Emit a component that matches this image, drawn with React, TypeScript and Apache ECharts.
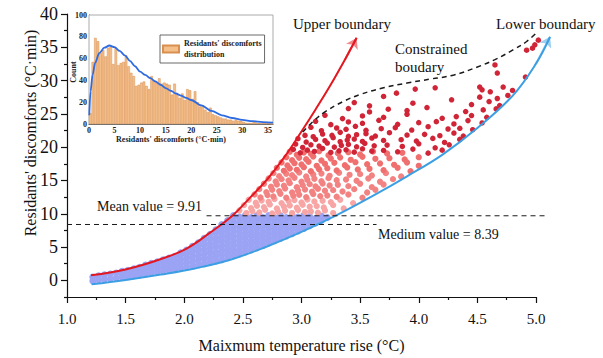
import React, { useEffect, useRef } from 'react';
import * as echarts from 'echarts';

const FONT = 'Liberation Serif';

// ---------- main chart data ----------
const xTickStep = 0.5;
const yMajorTicks = [0, 5, 10, 15, 20, 25, 30, 35, 40];
const yMinorTicks = [-2.5, 2.5, 7.5, 12.5, 17.5, 22.5, 27.5, 32.5, 37.5];

const upperBoundary: number[][] = [
  [1.205, 0.75], [1.5, 1.64], [1.79, 3.13], [2.02, 4.78], [2.22, 7.16], [2.41, 9.7],
  [2.56, 12.39], [2.71, 15.22], [2.86, 18.66], [2.99, 22.09], [3.12, 25.67],
  [3.24, 29.1], [3.37, 33.13], [3.47, 36.42],
];
const lowerBoundary: number[][] = [
  [1.21, -0.3], [1.5, 0.35], [1.8, 1.15], [2.1, 2.1], [2.4, 3.4], [2.7, 5.3], [3.0, 7.5],
  [3.3, 10.0], [3.6, 12.8], [3.9, 15.8], [4.2, 19.0], [4.5, 23.0], [4.8, 27.8],
  [5.0, 32.6], [5.12, 36.6],
];
const constrainedBoundary: number[][] = [
  [3.01, 22.4], [3.1, 24.0], [3.2, 25.4], [3.35, 26.9], [3.5, 28.0], [3.7, 29.0],
  [3.9, 29.7], [4.1, 30.3], [4.3, 30.9], [4.5, 32.1], [4.65, 33.2], [4.8, 34.6],
  [4.92, 35.9], [5.01, 37.3],
];
const meanValue = 9.91;
const medianValue = 8.39;
const meanSpan = [2.19, 5.1];
const medianSpan = [1.0, 3.64];

// blue points (below the mean) as columns: [x, ys]
const blueCols: [number, number[]][] = [
  [1.22, [-0.1, 0.5]],
  [1.27, [0.05, 0.7]],
  [1.32, [0.15, 0.85]],
  [1.37, [0.25, 0.95]],
  [1.42, [0.35, 1.1]],
  [1.47, [0.45, 1.0, 1.35]],
  [1.52, [0.55, 1.1, 1.5]],
  [1.57, [0.7, 1.25, 1.75]],
  [1.62, [0.8, 1.35, 1.95]],
  [1.67, [0.95, 1.5, 2.05, 2.3]],
  [1.72, [1.1, 1.7, 2.3, 2.55]],
  [1.77, [1.25, 1.85, 2.45, 2.8]],
  [1.82, [1.35, 1.95, 2.6, 3.1]],
  [1.87, [1.5, 2.1, 2.75, 3.35]],
  [1.92, [1.65, 2.3, 2.95, 3.6]],
  [1.97, [1.85, 2.5, 3.15, 3.8, 4.15]],
  [2.02, [2.0, 2.65, 3.3, 3.95, 4.55]],
  [2.07, [2.15, 2.8, 3.5, 4.2, 4.85, 5.1]],
  [2.12, [2.3, 3.0, 3.7, 4.4, 5.05, 5.65]],
  [2.17, [2.5, 3.2, 3.9, 4.6, 5.3, 6.0, 6.3]],
  [2.22, [2.7, 3.4, 4.1, 4.8, 5.5, 6.2, 6.9]],
  [2.27, [2.9, 3.6, 4.3, 5.0, 5.7, 6.4, 7.1, 7.6]],
  [2.32, [3.1, 3.8, 4.5, 5.2, 5.9, 6.6, 7.3, 8.0, 8.4]],
  [2.37, [3.4, 4.1, 4.8, 5.5, 6.2, 6.9, 7.6, 8.3, 9.0]],
  [2.42, [3.7, 4.4, 5.1, 5.8, 6.5, 7.2, 7.9, 8.6, 9.3, 9.75]],
  [2.47, [3.95, 4.6, 5.3, 6.0, 6.7, 7.4, 8.1, 8.8, 9.5]],
  [2.52, [4.25, 4.95, 5.65, 6.35, 7.05, 7.75, 8.45, 9.15, 9.75]],
  [2.57, [4.55, 5.25, 5.95, 6.65, 7.35, 8.05, 8.75, 9.45]],
  [2.62, [4.9, 5.6, 6.3, 7.0, 7.7, 8.4, 9.1, 9.75]],
  [2.67, [5.25, 5.95, 6.65, 7.35, 8.05, 8.75, 9.45]],
  [2.72, [5.6, 6.3, 7.0, 7.7, 8.4, 9.1, 9.75]],
  [2.77, [5.95, 6.65, 7.35, 8.05, 8.75, 9.45]],
  [2.82, [6.3, 7.0, 7.7, 8.4, 9.1, 9.75]],
  [2.87, [6.65, 7.35, 8.05, 8.75, 9.45]],
  [2.92, [7.0, 7.7, 8.4, 9.1, 9.75]],
  [2.97, [7.4, 8.1, 8.8, 9.5]],
  [3.02, [7.8, 8.5, 9.2, 9.8]],
  [3.07, [8.2, 8.9, 9.6]],
  [3.12, [8.6, 9.3]],
  [3.17, [9.0, 9.65]],
  [3.22, [9.45]],
];

// pink points (between mean and ~19.5) as rows: [xs, ys]
const pinkRows: [number[], number[]][] = [
  [[2.47, 2.53, 2.58, 2.64, 2.69, 2.75, 2.8, 2.86, 2.92, 2.97, 3.03, 3.08, 3.14, 3.2, 3.27],
   [10.5, 10.1, 10.4, 10.2, 10.6, 10.05, 10.3, 10.45, 10.1, 10.55, 10.25, 10.35, 10.15, 10.5, 10.1]],
  [[2.51, 2.57, 2.62, 2.68, 2.73, 2.79, 2.85, 2.9, 2.96, 3.01, 3.07, 3.13, 3.19, 3.27, 3.36],
   [11.3, 10.85, 11.2, 11.0, 11.4, 10.8, 11.1, 11.25, 10.9, 11.35, 11.05, 11.15, 10.95, 11.3, 10.8]],
  [[2.55, 2.61, 2.66, 2.72, 2.77, 2.83, 2.89, 2.94, 3.0, 3.05, 3.11, 3.18, 3.25, 3.33, 3.44],
   [12.1, 11.65, 12.0, 11.8, 12.2, 11.6, 11.9, 12.05, 11.7, 12.15, 11.85, 11.95, 11.75, 12.1, 11.6]],
  [[2.6, 2.65, 2.71, 2.76, 2.82, 2.87, 2.93, 2.98, 3.04, 3.1, 3.16, 3.22, 3.3, 3.4, 3.52],
   [12.9, 12.45, 12.8, 12.6, 13.0, 12.4, 12.7, 12.85, 12.5, 12.95, 12.65, 12.75, 12.55, 12.9, 12.4]],
  [[2.64, 2.7, 2.75, 2.81, 2.86, 2.92, 2.97, 3.03, 3.09, 3.14, 3.2, 3.27, 3.35, 3.45, 3.56, 3.63],
   [13.7, 13.25, 13.6, 13.4, 13.8, 13.2, 13.5, 13.65, 13.3, 13.75, 13.45, 13.55, 13.35, 13.7, 13.2, 13.6]],
  [[2.68, 2.74, 2.79, 2.85, 2.9, 2.96, 3.01, 3.07, 3.12, 3.18, 3.24, 3.31, 3.4, 3.5, 3.6, 3.7],
   [14.5, 14.05, 14.4, 14.2, 14.6, 14.0, 14.3, 14.45, 14.1, 14.55, 14.25, 14.35, 14.15, 14.5, 14.0, 14.4]],
  [[2.72, 2.78, 2.83, 2.89, 2.94, 3.0, 3.05, 3.11, 3.17, 3.23, 3.3, 3.38, 3.47, 3.57, 3.67, 3.78],
   [15.3, 14.85, 15.2, 15.0, 15.4, 14.8, 15.1, 15.25, 14.9, 15.35, 15.05, 15.15, 14.95, 15.3, 14.8, 15.2]],
  [[2.76, 2.81, 2.87, 2.92, 2.98, 3.04, 3.1, 3.17, 3.24, 3.32, 3.41, 3.5, 3.6, 3.72, 3.85],
   [16.1, 15.65, 16.0, 15.8, 16.2, 15.6, 15.9, 16.05, 15.7, 16.15, 15.85, 15.95, 15.75, 16.1, 15.6]],
  [[2.79, 2.85, 2.9, 2.96, 3.02, 3.08, 3.15, 3.22, 3.3, 3.39, 3.48, 3.58, 3.7, 3.82, 3.93],
   [16.9, 16.45, 16.8, 16.6, 17.0, 16.4, 16.7, 16.85, 16.5, 16.95, 16.65, 16.75, 16.55, 16.9, 16.4]],
  [[2.83, 2.88, 2.94, 3.0, 3.06, 3.13, 3.2, 3.28, 3.37, 3.46, 3.56, 3.67, 3.79, 3.9, 4.0],
   [17.7, 17.25, 17.6, 17.4, 17.8, 17.2, 17.5, 17.65, 17.3, 17.75, 17.45, 17.55, 17.35, 17.7, 17.2]],
  [[2.87, 2.92, 2.98, 3.04, 3.1, 3.17, 3.25, 3.33, 3.42, 3.52, 3.63, 3.75, 3.88, 4.0],
   [18.5, 18.05, 18.4, 18.2, 18.6, 18.0, 18.3, 18.45, 18.1, 18.55, 18.25, 18.35, 18.15, 18.5]],
  [[2.9, 2.96, 3.02, 3.08, 3.15, 3.23, 3.31, 3.4, 3.5, 3.61, 3.73, 3.86],
   [19.3, 18.85, 19.2, 19.0, 19.4, 18.8, 19.1, 19.25, 18.9, 19.35, 19.05, 19.15]],
];

// crimson points (upper part) as rows: [xs, ys]
const redRows: [number[], number[]][] = [
  [[2.93, 2.99, 3.05, 3.11, 3.18, 3.25, 3.32, 3.38, 3.45, 3.52, 3.6, 3.7, 3.82, 3.95, 4.08, 4.2],
   [19.8, 19.3, 19.7, 19.5, 19.95, 19.35, 19.6, 19.75, 19.4, 19.9, 19.55, 19.65, 19.45, 19.85, 19.25, 19.7]],
  [[2.95, 3.01, 3.08, 3.15, 3.22, 3.28, 3.34, 3.4, 3.47, 3.54, 3.62, 3.73, 3.86, 4.0, 4.14, 4.26],
   [20.6, 20.1, 20.5, 20.3, 20.75, 20.15, 20.4, 20.55, 20.2, 20.7, 20.35, 20.45, 20.25, 20.65, 20.05, 20.5]],
  [[2.97, 3.04, 3.12, 3.2, 3.27, 3.33, 3.39, 3.45, 3.52, 3.6, 3.7, 3.85, 3.98, 4.12, 4.22, 4.35],
   [21.4, 20.9, 21.3, 21.1, 21.55, 20.95, 21.2, 21.35, 21.0, 21.5, 21.15, 21.25, 21.05, 21.45, 20.85, 21.3]],
  [[3.03, 3.1, 3.18, 3.26, 3.33, 3.4, 3.47, 3.55, 3.63, 3.75, 3.9, 4.05, 4.18, 4.3, 4.38],
   [21.9, 21.7, 22.1, 21.9, 22.35, 21.75, 22.0, 22.15, 21.8, 22.3, 21.95, 22.05, 21.85, 22.25, 21.8]],
  [[3.08, 3.17, 3.3, 3.38, 3.46, 3.55, 3.68, 3.8, 3.94, 4.08, 4.25, 4.35, 4.46],
   [23.1, 22.6, 23.0, 22.8, 23.25, 22.65, 22.9, 23.05, 22.7, 23.2, 22.85, 22.95, 22.75]],
  [[3.12, 3.25, 3.4, 3.52, 3.66, 3.82, 4.0, 4.15, 4.3, 4.42, 4.54],
   [24.0, 23.5, 23.9, 23.7, 24.15, 23.55, 23.8, 23.95, 23.6, 24.1, 23.75]],
  [[3.2, 3.35, 3.52, 3.7, 3.9, 4.2, 4.32, 4.45, 4.58],
   [24.9, 24.4, 24.8, 24.6, 25.05, 24.45, 24.7, 24.85, 24.6]],
  [[3.4, 3.58, 3.74, 3.9, 4.07, 4.4, 4.55, 4.66],
   [25.9, 25.4, 25.8, 25.6, 26.05, 25.45, 25.7, 25.85]],
  [[3.45, 3.58, 3.95, 4.45, 4.6, 4.69],
   [26.8, 26.3, 26.7, 26.5, 26.95, 26.35]],
  [[3.7, 4.28, 4.52, 4.67, 4.76],
   [27.7, 27.2, 27.6, 27.4, 27.85]],
  [[3.81, 3.97, 4.14, 4.54, 4.61, 4.72, 4.8, 4.52],
   [28.2, 28.8, 29.0, 28.7, 28.4, 29.1, 28.6, 29.1]],
  [[4.91, 4.67, 4.65, 4.92, 4.97, 4.99, 5.02],
   [30.6, 31.2, 32.4, 34.6, 34.9, 35.4, 36.1]],
];

// ---------- inset histogram data ----------
const binWidth = 0.5;
const binCounts = [
  10, 57, 79, 76, 65, 68, 62, 70, 71, 55, 70, 54, 56, 57, 63, 53, 47, 44, 35, 36,
  38, 39, 35, 32, 44, 40, 38, 42, 37, 38, 37, 36, 27, 37, 27, 24, 28, 22, 32, 31,
  23, 30, 20, 16, 17, 13, 11, 15, 9, 8, 7, 6, 5, 5, 4, 4, 3, 4, 3, 3,
  2, 1, 1, 1, 2, 1, 1, 1, 1, 2, 1, 0,
];
const fitCurve: number[][] = [
  [0.05, 8], [0.3, 30], [0.7, 45], [1.2, 56], [2, 65], [3, 70], [4, 72], [5, 70.5],
  [6, 67], [7, 63], [8, 58], [9, 53], [10, 48], [11, 45], [12, 42], [13, 39], [14, 36],
  [15, 33], [16, 30.5], [17, 28], [18, 26], [19, 24], [20, 22], [22, 17], [24, 12],
  [26, 8], [28, 5.5], [30, 3.8], [32, 2.6], [34, 1.8], [36, 1.3],
];
const histName = "Residants' discomforts distribution";

const zipRows = (rows: [number[], number[]][]) =>
  rows.flatMap(([xs, ys]) => xs.map((x, i) => [x, ys[i]]));

export default function App() {
  const ref = useRef<HTMLDivElement>(null);

  useEffect(() => {
    if (!ref.current) return;
    const chart = echarts.init(ref.current, undefined, { renderer: 'svg' });

    const blueData = blueCols.flatMap(([x, ys]) => ys.map((y) => [x, y]));
    const pinkData = zipRows(pinkRows);
    const redData = zipRows(redRows);
    const histData = binCounts.map((c, i) => [i * binWidth + binWidth / 2, c]);

    const baseText = { fontFamily: FONT, color: '#111' };
    const insetText = { fontFamily: FONT, color: '#222', fontSize: 8, fontWeight: 'bold' as const };

    // grid 2 shares grid 0's scale but reaches a little further right (x up to 5.125)
    const pxPerUnit = (603 - 67 - 67) / 4;
    const extMax = 5.125;
    const extRight = 603 - 67 - (extMax - 1) * pxPerUnit;

    const option: any = {
      animation: false,
      backgroundColor: '#fff',
      textStyle: { fontFamily: FONT },
      grid: [
        { left: 67, right: 67, top: 14, bottom: 59 },
        {
          left: 89, top: 15, width: 184, height: 109, show: true,
          backgroundColor: '#fff', borderColor: '#aaa', borderWidth: 1, z: 5,
        },
        { left: 67, right: extRight, top: 14, bottom: 59 },
      ],
      legend: {
        show: true,
        left: 160,
        top: 35,
        data: [{ name: histName, icon: 'rect' }],
        itemWidth: 16,
        itemHeight: 7,
        padding: [3, 3, 3, 2],
        borderColor: '#444',
        borderWidth: 0.8,
        borderRadius: 0,
        backgroundColor: '#fff',
        formatter: () => "Residants' discomforts\ndistribution",
        textStyle: { ...insetText, lineHeight: 11 },
        z: 20,
      },
      xAxis: [
        {
          gridIndex: 0, type: 'value', min: 1, max: 5, interval: xTickStep,
          axisLine: { onZero: false, lineStyle: { color: '#111', width: 1.2 } },
          axisTick: { length: 6, lineStyle: { color: '#111', width: 1.2 } },
          minorTick: { show: true, splitNumber: 2, length: 3, lineStyle: { color: '#111', width: 1.2 } },
          splitLine: { show: false },
          axisLabel: { ...baseText, fontSize: 15, margin: 14, formatter: (v: number) => v.toFixed(1) },
          name: 'Maixmum temperature rise (°C)',
          nameLocation: 'middle', nameGap: 40,
          nameTextStyle: { ...baseText, fontSize: 16 },
        },
        {
          gridIndex: 1, type: 'value', min: 0, max: 36, interval: 5,
          axisLine: { onZero: false, lineStyle: { color: '#333', width: 1 } },
          axisTick: { inside: true, length: 2, lineStyle: { color: '#333' } },
          splitLine: { show: false },
          axisLabel: { ...insetText, margin: 2 },
          name: "Residants' discomforts (°C·min)",
          nameLocation: 'middle', nameGap: 11,
          nameTextStyle: { ...insetText, padding: [0, 20, 0, 0] },
        },
        { gridIndex: 2, type: 'value', min: 1, max: extMax, show: false },
      ],
      yAxis: [
        {
          gridIndex: 0, type: 'value', min: -2.5, max: 40,
          axisLine: { show: true, onZero: false, lineStyle: { color: '#111', width: 1.2 } },
          axisTick: { show: true, length: 6, customValues: yMajorTicks, lineStyle: { color: '#111', width: 1.2 } },
          axisLabel: { ...baseText, fontSize: 18, margin: 9, customValues: yMajorTicks },
          splitLine: { show: false },
        },
        {
          gridIndex: 0, type: 'value', min: -2.5, max: 40, position: 'left',
          axisLine: { show: false },
          axisTick: { show: true, length: 3, customValues: yMinorTicks, lineStyle: { color: '#111', width: 1.2 } },
          axisLabel: { show: false },
          splitLine: { show: false },
        },
        {
          gridIndex: 1, type: 'value', min: 0, max: 100, interval: 20,
          axisLine: { show: true, onZero: false, lineStyle: { color: '#333', width: 1 } },
          axisTick: { show: true, inside: true, length: 2, lineStyle: { color: '#333' } },
          axisLabel: { ...insetText, margin: 2 },
          splitLine: { show: false },
        },
        { gridIndex: 2, type: 'value', min: -2.5, max: 40, show: false },
      ],
      series: [
        {
          name: 'low', type: 'scatter', xAxisIndex: 0, yAxisIndex: 0, data: blueData,
          symbolSize: 7, itemStyle: { color: '#9ba3f4', opacity: 1 }, z: 2,
        },
        {
          name: 'mid', type: 'scatter', xAxisIndex: 0, yAxisIndex: 0, data: pinkData,
          symbolSize: 6.3, z: 2,
          itemStyle: {
            opacity: 1,
            color: (p: any) => {
              const y = p.value[1];
              return y < 12.4 ? '#f7a5a5' : y < 16.3 ? '#f38282' : '#f07070';
            },
          },
        },
        {
          name: 'high', type: 'scatter', xAxisIndex: 2, yAxisIndex: 3, data: redData,
          symbolSize: 5.5, itemStyle: { color: '#d02437', opacity: 1 }, z: 2,
        },
        {
          name: 'Upper boundary', type: 'line', xAxisIndex: 0, yAxisIndex: 0, data: upperBoundary,
          smooth: 0.4, symbol: 'none', z: 4,
          lineStyle: { color: '#e3171f', width: 2 },
        },
        {
          name: 'Lower boundary', type: 'line', xAxisIndex: 2, yAxisIndex: 3, data: lowerBoundary,
          smooth: 0.4, symbol: 'none', z: 4,
          lineStyle: { color: '#3d9fe3', width: 2 },
        },
        {
          name: 'arrows', type: 'lines', coordinateSystem: 'cartesian2d', xAxisIndex: 2, yAxisIndex: 3,
          z: 4, symbol: ['none', 'arrow'], symbolSize: 10,
          data: [
            { coords: upperBoundary.slice(-2), lineStyle: { color: '#e3171f', width: 2 } },
            { coords: lowerBoundary.slice(-2), lineStyle: { color: '#3d9fe3', width: 2 } },
          ],
        },
        {
          name: 'Constrained boudary', type: 'line', xAxisIndex: 2, yAxisIndex: 3, data: constrainedBoundary,
          smooth: 0.4, symbol: 'none', z: 5,
          lineStyle: { color: '#1a1a1a', width: 1.5, type: [5, 4] },
        },
        {
          name: 'Mean value', type: 'line', xAxisIndex: 2, yAxisIndex: 3,
          data: [[meanSpan[0], meanValue], [meanSpan[1], meanValue]],
          symbol: 'none', z: 5,
          lineStyle: { color: '#1a1a1a', width: 1, type: [5, 4] },
        },
        {
          name: 'Medium value', type: 'line', xAxisIndex: 0, yAxisIndex: 0,
          data: [[medianSpan[0], medianValue], [medianSpan[1], medianValue]],
          symbol: 'none', z: 5,
          lineStyle: { color: '#1a1a1a', width: 1, type: [5, 4] },
        },
        {
          name: histName, type: 'bar', xAxisIndex: 1, yAxisIndex: 2, data: histData,
          barWidth: 2.56, z: 6,
          itemStyle: { color: '#f5bf8a', borderColor: '#d88f4f', borderWidth: 0.5 },
        },
        {
          name: 'fit', type: 'line', xAxisIndex: 1, yAxisIndex: 2, data: fitCurve,
          smooth: 0.3, smoothMonotone: 'x', symbol: 'none', z: 7,
          lineStyle: { color: '#2f6be0', width: 1.8 },
        },
      ],
      graphic: [
        {
          type: 'text', x: 30, y: 133, rotation: Math.PI / 2, z: 50,
          style: { text: "Residants' discomforts (°C·min)", fontFamily: FONT, fontSize: 16, fill: '#111', align: 'center', verticalAlign: 'middle' },
        },
        {
          type: 'text', x: 73, y: 72, rotation: Math.PI / 2, z: 50,
          style: { text: 'Count', fontFamily: FONT, fontSize: 8, fontWeight: 'bold', fill: '#222', align: 'center', verticalAlign: 'middle' },
        },
        { type: 'text', x: 293, y: 24, z: 50, style: { text: 'Upper boundary', fontFamily: FONT, fontSize: 15, fill: '#111', align: 'left', verticalAlign: 'middle' } },
        { type: 'text', x: 496, y: 24, z: 50, style: { text: 'Lower boundary', fontFamily: FONT, fontSize: 15, fill: '#111', align: 'left', verticalAlign: 'middle' } },
        { type: 'text', x: 395, y: 49, z: 50, style: { text: 'Constrained', fontFamily: FONT, fontSize: 15, fill: '#111', align: 'left', verticalAlign: 'middle' } },
        { type: 'text', x: 395, y: 67, z: 50, style: { text: 'boudary', fontFamily: FONT, fontSize: 15, fill: '#111', align: 'left', verticalAlign: 'middle' } },
        { type: 'text', x: 97, y: 206.5, z: 50, style: { text: 'Mean value = 9.91', fontFamily: FONT, fontSize: 14, fill: '#111', align: 'left', verticalAlign: 'middle' } },
        { type: 'text', x: 378, y: 234, z: 50, style: { text: 'Medium value = 8.39', fontFamily: FONT, fontSize: 14, fill: '#111', align: 'left', verticalAlign: 'middle' } },
      ],
    };

    chart.setOption(option);
    return () => chart.dispose();
  }, []);

  return (
    <div
      ref={ref}
      style={{ position: 'fixed', left: 0, top: 0, width: 603, height: 358, background: '#fff' }}
    />
  );
}
